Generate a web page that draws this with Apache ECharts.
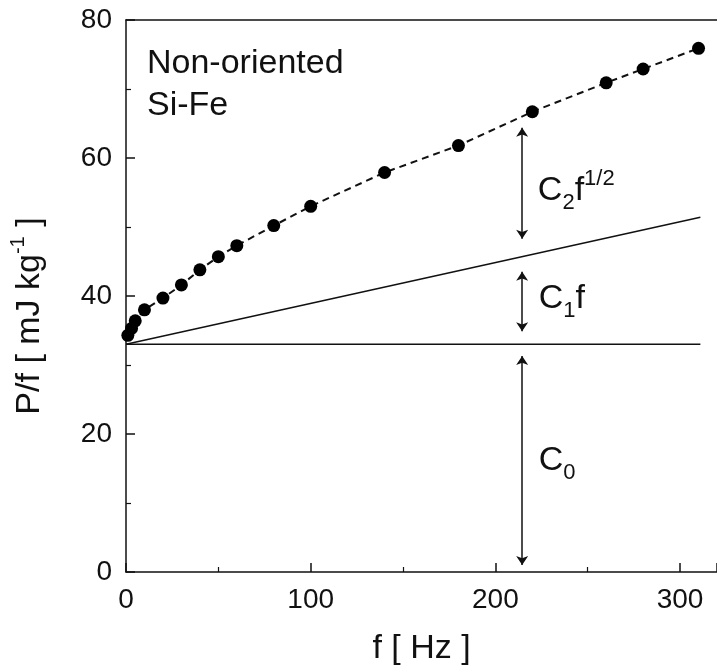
<!DOCTYPE html>
<html>
<head>
<meta charset="utf-8">
<script src="https://cdn.jsdelivr.net/npm/echarts@6/dist/echarts.min.js"></script>
<style>
  html, body { margin: 0; padding: 0; background: #fff; }
  #chart { width: 717px; height: 671px; }
</style>
</head>
<body>
<div id="chart"></div>
<script>
// measured points (frequency in Hz, P/f in mJ/kg)
var freq = [1, 3, 5, 10, 20, 30, 40, 50, 60, 80, 100, 140, 180, 220, 260, 280, 310];
var lossPerCycle = [34.3, 35.3, 36.4, 38.0, 39.7, 41.6, 43.8, 45.7, 47.3, 50.2, 53.0, 57.9, 61.8, 66.7, 70.9, 72.9, 75.9];

// hysteresis level C0 and classical part C0 + C1 f
var c0Line = [[0, 33], [311, 33]];
var c1Line = [[0, 33], [311, 51.4]];

// double arrows at f = 214.5
var arrowX = 214.5;
var arrowTop = [64.4, 43.5, 31.3];
var arrowBottom = [48.3, 34.9, 1.0];

// annotation labels
var noteX = [223, 223.5, 223.5];
var noteY = [55.2, 39.6, 16.1];
var noteText = ['{m|C}{s|2}{m|f}{p|1/2}', '{m|C}{s|1}{m|f}', '{m|C}{s|0}'];

var xTicks = [0, 100, 200, 300];
var yTicks = [0, 20, 40, 60, 80];

var font = '"Liberation Sans", Arial, sans-serif';

var myChart = echarts.init(document.getElementById('chart'));

var points = freq.map(function (f, i) { return [f, lossPerCycle[i]]; });
var arrows = arrowTop.map(function (t, i) {
    return { coords: [[arrowX, t], [arrowX, arrowBottom[i]]] };
});
var notes = noteX.map(function (x, i) {
    return { value: [x, noteY[i]], label: { formatter: noteText[i] } };
});

var option = {
    animation: false,
    backgroundColor: '#fff',
    grid: {
        left: 122,
        top: 20,
        width: 598,
        height: 555
    },
    xAxis: [
        {
            type: 'value',
            min: 0,
            max: 320,
            interval: 100,
            name: 'f [ Hz ]',
            nameLocation: 'middle',
            nameGap: 60,
            nameTextStyle: { color: '#111', fontSize: 34, fontFamily: font },
            axisLine: { lineStyle: { color: '#111', width: 1.5 } },
            axisTick: { inside: true, length: 9, lineStyle: { color: '#111', width: 1.5 } },
            minorTick: { show: true, splitNumber: 2, length: 5, lineStyle: { color: '#111', width: 1.2 } },
            axisLabel: {
                color: '#111', fontSize: 28, fontFamily: font, margin: 14,
                showMaxLabel: false,
                formatter: function (v) { return xTicks.indexOf(v) >= 0 ? String(v) : ''; }
            },
            splitLine: { show: false }
        },
        {
            // plain frame line along the top
            type: 'value',
            position: 'top',
            min: 0,
            max: 320,
            axisLine: { onZero: false, lineStyle: { color: '#111', width: 1.5 } },
            axisTick: { show: false },
            axisLabel: { show: false },
            splitLine: { show: false }
        }
    ],
    yAxis: {
        type: 'value',
        min: 0,
        max: 80,
        interval: 20,
        name: '{t|P/f [ mJ kg}{p|-1}{t| ]}',
        nameLocation: 'middle',
        nameGap: 74,
        nameTextStyle: {
            padding: [0, 40, 0, 0],
            rich: {
                t: { color: '#111', fontSize: 34, fontFamily: font, lineHeight: 44, verticalAlign: 'middle' },
                p: { color: '#111', fontSize: 20, fontFamily: font, lineHeight: 20, verticalAlign: 'top' }
            }
        },
        axisLine: { lineStyle: { color: '#111', width: 1.5 } },
        axisTick: { inside: true, length: 9, lineStyle: { color: '#111', width: 1.5 } },
        minorTick: { show: true, splitNumber: 2, length: 5, lineStyle: { color: '#111', width: 1.2 } },
        axisLabel: {
            color: '#111', fontSize: 28, fontFamily: font, margin: 14,
            formatter: function (v) { return yTicks.indexOf(v) >= 0 ? String(v) : ''; }
        },
        splitLine: { show: false }
    },
    graphic: [
        {
            type: 'text',
            left: 147,
            top: 43,
            style: {
                text: 'Non-oriented\nSi-Fe',
                font: '34px ' + font,
                lineHeight: 42,
                fill: '#111'
            }
        }
    ],
    series: [
        {
            name: 'C0',
            type: 'line',
            data: c0Line,
            symbol: 'none',
            lineStyle: { color: '#111', width: 1.5 }
        },
        {
            name: 'C1',
            type: 'line',
            data: c1Line,
            symbol: 'none',
            lineStyle: { color: '#111', width: 1.5 }
        },
        {
            name: 'measured',
            type: 'line',
            data: points,
            symbol: 'circle',
            symbolSize: 13,
            showAllSymbol: true,
            itemStyle: { color: '#000' },
            lineStyle: { color: '#111', width: 2, type: [7, 5] }
        },
        {
            name: 'arrows',
            type: 'lines',
            coordinateSystem: 'cartesian2d',
            data: arrows,
            symbol: ['arrow', 'arrow'],
            symbolSize: 9,
            lineStyle: { color: '#111', width: 1.5, opacity: 1 }
        },
        {
            name: 'notes',
            type: 'scatter',
            data: notes,
            symbolSize: 0,
            silent: true,
            itemStyle: { opacity: 1 },
            label: {
                show: true,
                position: 'right',
                distance: 0,
                color: '#111',
                rich: {
                    m: { color: '#111', fontSize: 34, fontFamily: font, lineHeight: 46, verticalAlign: 'middle' },
                    s: { color: '#111', fontSize: 22, fontFamily: font, lineHeight: 24, verticalAlign: 'bottom' },
                    p: { color: '#111', fontSize: 22, fontFamily: font, lineHeight: 24, verticalAlign: 'top' }
                }
            }
        }
    ]
};

myChart.setOption(option);
</script>
</body>
</html>
